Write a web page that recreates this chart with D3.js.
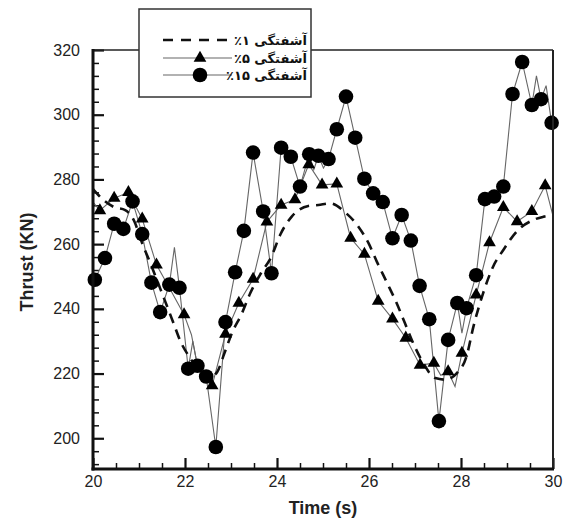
<!DOCTYPE html>
<html><head><meta charset="utf-8">
<script src="https://cdn.jsdelivr.net/npm/d3@7/dist/d3.min.js"></script>
<style>body{margin:0;background:#fff}svg{display:block}</style>
</head><body><svg id="c" width="567" height="522"></svg>
<script>
// ---- data (time in s, thrust in KN) ----
const seriesNames = ["آشفتگی ۱٪", "آشفتگی ۵٪", "آشفتگی ۱۵٪"];
const xTicks = [20, 22, 24, 26, 28, 30];
const yTicks = [200, 220, 240, 260, 280, 300, 320];

// 1% turbulence (dashed, no markers)
const dashT = [20.00,20.20,20.45,20.70,20.90,21.05,21.25,21.55,21.75,21.90,22.10,22.30,22.50,22.70,22.85,23.02,23.24,23.42,23.65,23.88,24.07,24.32,24.68,24.90,25.15,25.50,25.77,25.99,26.17,26.38,26.60,26.78,26.96,27.15,27.44,27.66,27.90,28.12,28.27,28.48,28.70,28.92,29.21,29.61,29.80,30.00];
const dashV = [277,274,271.5,270.5,267,261,254,243,235.6,230,225,221,218.5,220.5,226,232.5,238.7,244.9,251,256.2,262.9,268.5,271.8,272.1,272.6,269.6,265.4,260.3,254.6,248.4,241.8,235.6,229.4,224,218.6,218.1,220,225.3,234.5,244.8,253.1,258.2,263.9,267.7,268.5,269];

// 5% turbulence (triangles)
const triT = [20.15,20.46,20.77,21.07,21.38,21.98,22.59,22.88,23.17,23.48,23.78,24.09,24.39,24.69,24.98,25.30,25.60,25.90,26.20,26.51,26.80,27.11,27.41,27.72,28.02,28.33,28.62,28.92,29.22,29.54,29.83];
const triV = [270.4,274.2,276.0,267.8,253.6,238.2,216.3,232.2,241.8,249.2,266.9,272.1,273.8,284.6,278.3,278.6,261.9,256.9,242.4,236.9,231.0,222.6,223.2,220.6,226.3,244.3,260.5,271.4,267.0,270.1,278.1];
// extra line vertices of the 5% curve between markers
const triExtraT = [20.00,21.68,22.14,22.29,27.56,27.87,30.00];
const triExtraV = [273,246,232,221,219.5,216,268.7];

// 15% turbulence (circles)
const cirT = [20.04,20.26,20.46,20.66,20.86,21.07,21.27,21.46,21.66,21.88,22.07,22.27,22.46,22.67,22.88,23.09,23.28,23.48,23.70,23.88,24.09,24.30,24.50,24.70,24.90,25.12,25.30,25.50,25.70,25.90,26.09,26.30,26.51,26.71,26.91,27.10,27.31,27.52,27.72,27.92,28.12,28.33,28.52,28.72,28.92,29.12,29.33,29.54,29.74,29.97];
const cirV = [249.0,255.7,266.3,264.7,273.2,263.1,248.1,239.0,247.5,246.5,221.5,222.4,219.1,197.3,235.9,251.3,264.1,288.3,270.1,251.0,289.8,287.0,277.8,287.8,287.3,286.3,295.5,305.6,292.9,280.2,275.7,273.0,261.8,269.0,261.1,247.1,236.8,205.3,230.4,241.8,240.2,250.4,273.9,274.7,277.8,306.4,316.3,303.0,304.8,297.5];
// extra line vertices of the 15% curve between markers
const cirExtraT = [21.77,22.17,24.80,25.01,28.02,29.64,29.85];
const cirExtraV = [259,230,283,283.5,232.5,312,309];

// ---- layout ----
const svg = d3.select("#c");
const L = 93, R = 553, T = 50, B = 469;
const x = d3.scaleLinear().domain([20, 30]).range([L, R]);
const y = d3.scaleLinear().domain([190.5, 320]).range([B, T]);

const zip = (ts, vs) => ts.map((t, i) => ({t, v: vs[i]}));
const merge = (a, b) => a.concat(b).sort((p, q) => p.t - q.t);

const dashPts = zip(dashT, dashV);
const triPts = zip(triT, triV);
const cirPts = zip(cirT, cirV);
const triLine = merge(triPts, zip(triExtraT, triExtraV));
const cirLine = merge(cirPts, zip(cirExtraT, cirExtraV));

const lineGen = d3.line().x(d => x(d.t)).y(d => y(d.v));
const smoothGen = d3.line().x(d => x(d.t)).y(d => y(d.v)).curve(d3.curveMonotoneX);

// axes ticks (inward)
const fontNum = "'Liberation Sans', Arial, sans-serif";
const yMinor = d3.range(192, 320, 4).filter(v => v % 20 !== 0);
const xMinor = d3.range(20.5, 30, 0.5).filter(v => Math.abs(v % 2) > 1e-6);

svg.append("g").attr("transform", `translate(${L},0)`)
  .call(d3.axisLeft(y).tickValues(yMinor).tickSize(-6).tickFormat(""))
  .call(g => g.select(".domain").remove())
  .call(g => g.selectAll("line").attr("stroke", "#111").attr("stroke-width", 1.5));
svg.append("g").attr("transform", `translate(${L},0)`)
  .call(d3.axisLeft(y).tickValues(yTicks).tickSize(-11).tickPadding(13))
  .call(g => g.select(".domain").remove())
  .call(g => g.selectAll("line").attr("stroke", "#111").attr("stroke-width", 2.2))
  .call(g => g.selectAll("text").attr("font-family", fontNum).attr("font-size", 16).attr("fill", "#222"));

svg.append("g").attr("transform", `translate(0,${B})`)
  .call(d3.axisBottom(x).tickValues(xMinor).tickSize(-6).tickFormat(""))
  .call(g => g.select(".domain").remove())
  .call(g => g.selectAll("line").attr("stroke", "#111").attr("stroke-width", 1.5));
svg.append("g").attr("transform", `translate(0,${B})`)
  .call(d3.axisBottom(x).tickValues(xTicks).tickSize(-11).tickPadding(7))
  .call(g => g.select(".domain").remove())
  .call(g => g.selectAll("line").attr("stroke", "#111").attr("stroke-width", 2.2))
  .call(g => g.selectAll("text").attr("font-family", fontNum).attr("font-size", 16).attr("fill", "#222"));

// data lines
svg.append("path").datum(cirLine).attr("d", lineGen)
  .attr("fill", "none").attr("stroke", "#666").attr("stroke-width", 1.1);
svg.append("path").datum(triLine).attr("d", lineGen)
  .attr("fill", "none").attr("stroke", "#666").attr("stroke-width", 1.1);
svg.append("path").datum(dashPts).attr("d", smoothGen)
  .attr("fill", "none").attr("stroke", "#111").attr("stroke-width", 2.6)
  .attr("stroke-dasharray", "10,7");

const triSym = d3.symbol(d3.symbolTriangle, 70);
svg.append("g").selectAll("path").data(triPts).join("path")
  .attr("d", triSym).attr("transform", d => `translate(${x(d.t)},${y(d.v)})`).attr("fill", "#000");
svg.append("g").selectAll("circle").data(cirPts).join("circle")
  .attr("cx", d => x(d.t)).attr("cy", d => y(d.v)).attr("r", 7.3).attr("fill", "#000");

// frame
svg.append("line").attr("x1", L).attr("x2", R).attr("y1", T).attr("y2", T).attr("stroke", "#222").attr("stroke-width", 1.6);
svg.append("line").attr("x1", R).attr("x2", R).attr("y1", T).attr("y2", B).attr("stroke", "#222").attr("stroke-width", 2);
svg.append("line").attr("x1", L).attr("x2", L).attr("y1", T - 1).attr("y2", B + 1.5).attr("stroke", "#111").attr("stroke-width", 3);
svg.append("line").attr("x1", L - 1.5).attr("x2", R + 1).attr("y1", B).attr("y2", B).attr("stroke", "#111").attr("stroke-width", 3);

// axis titles
svg.append("text").attr("x", 323).attr("y", 514).attr("text-anchor", "middle")
  .attr("font-family", fontNum).attr("font-weight", "bold").attr("font-size", 18).attr("fill", "#222")
  .text("Time (s)");
svg.append("text").attr("transform", "translate(33,262) rotate(-90)").attr("text-anchor", "middle")
  .attr("font-family", fontNum).attr("font-weight", "bold").attr("font-size", 18).attr("fill", "#222")
  .text("Thrust (KN)");

// legend
const lg = svg.append("g");
lg.append("rect").attr("x", 139).attr("y", 9).attr("width", 172).attr("height", 88)
  .attr("fill", "#fff").attr("stroke", "#333").attr("stroke-width", 1.5);
const rowsY = [40, 58, 75];
lg.append("line").attr("x1", 163).attr("x2", 232).attr("y1", rowsY[0]).attr("y2", rowsY[0])
  .attr("stroke", "#111").attr("stroke-width", 2.6).attr("stroke-dasharray", "10,8");
lg.append("line").attr("x1", 163).attr("x2", 232).attr("y1", rowsY[1]).attr("y2", rowsY[1])
  .attr("stroke", "#666").attr("stroke-width", 1.1);
lg.append("path").attr("d", triSym).attr("transform", `translate(200,${rowsY[1]})`).attr("fill", "#000");
lg.append("line").attr("x1", 163).attr("x2", 232).attr("y1", rowsY[2]).attr("y2", rowsY[2])
  .attr("stroke", "#666").attr("stroke-width", 1.1);
lg.append("circle").attr("cx", 200).attr("cy", rowsY[2]).attr("r", 7.3).attr("fill", "#000");
lg.selectAll("text.lab").data(seriesNames).join("text").attr("class", "lab")
  .attr("x", 307).attr("y", (d, i) => rowsY[i] + 5)
  .attr("direction", "rtl").style("direction", "rtl").attr("text-anchor", "start")
  .attr("font-family", "'DejaVu Sans', sans-serif").attr("font-weight", "bold").attr("font-size", 13)
  .attr("fill", "#111").text(d => d);
</script></body></html>
